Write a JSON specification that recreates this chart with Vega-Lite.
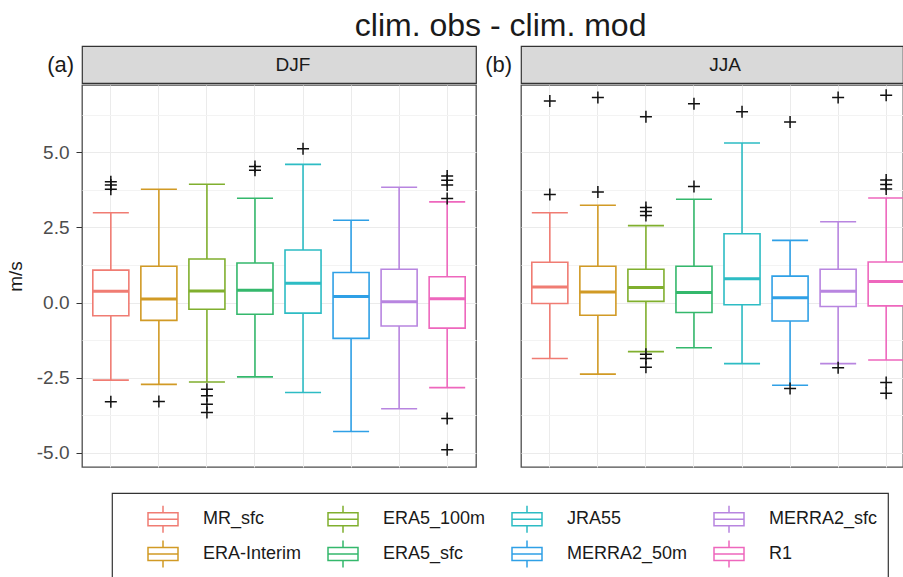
{
  "$schema": "https://vega.github.io/schema/vega-lite/v6.json",
  "padding": {"left": 5, "top": 10, "right": 0, "bottom": 0},
  "title": {"text": "clim. obs - clim. mod", "fontSize": 32, "font": "Liberation Sans", "fontWeight": "normal", "color": "#1A1A1A", "anchor": "middle", "offset": 2, "dx": 40},
  "datasets": {
    "boxes": [
      {"season": "DJF", "model": "MR_sfc", "upper": 2.99, "q3": 1.08, "median": 0.38, "q1": -0.44, "lower": -2.58},
      {"season": "DJF", "model": "ERA-Interim", "upper": 3.77, "q3": 1.21, "median": 0.12, "q1": -0.59, "lower": -2.72},
      {"season": "DJF", "model": "ERA5_100m", "upper": 3.94, "q3": 1.45, "median": 0.39, "q1": -0.22, "lower": -2.64},
      {"season": "DJF", "model": "ERA5_sfc", "upper": 3.47, "q3": 1.32, "median": 0.41, "q1": -0.39, "lower": -2.47},
      {"season": "DJF", "model": "JRA55", "upper": 4.60, "q3": 1.75, "median": 0.64, "q1": -0.35, "lower": -2.99},
      {"season": "DJF", "model": "MERRA2_50m", "upper": 2.74, "q3": 1.00, "median": 0.20, "q1": -1.19, "lower": -4.29},
      {"season": "DJF", "model": "MERRA2_sfc", "upper": 3.84, "q3": 1.11, "median": 0.03, "q1": -0.78, "lower": -3.53},
      {"season": "DJF", "model": "R1", "upper": 3.35, "q3": 0.86, "median": 0.13, "q1": -0.85, "lower": -2.83},
      {"season": "JJA", "model": "MR_sfc", "upper": 2.99, "q3": 1.34, "median": 0.52, "q1": -0.03, "lower": -1.86},
      {"season": "JJA", "model": "ERA-Interim", "upper": 3.24, "q3": 1.21, "median": 0.35, "q1": -0.42, "lower": -2.38},
      {"season": "JJA", "model": "ERA5_100m", "upper": 2.56, "q3": 1.11, "median": 0.50, "q1": 0.04, "lower": -1.63},
      {"season": "JJA", "model": "ERA5_sfc", "upper": 3.44, "q3": 1.21, "median": 0.34, "q1": -0.33, "lower": -1.50},
      {"season": "JJA", "model": "JRA55", "upper": 5.31, "q3": 2.29, "median": 0.79, "q1": -0.07, "lower": -2.03},
      {"season": "JJA", "model": "MERRA2_50m", "upper": 2.07, "q3": 0.88, "median": 0.16, "q1": -0.61, "lower": -2.75},
      {"season": "JJA", "model": "MERRA2_sfc", "upper": 2.69, "q3": 1.11, "median": 0.38, "q1": -0.13, "lower": -2.03},
      {"season": "JJA", "model": "R1", "upper": 3.48, "q3": 1.35, "median": 0.70, "q1": -0.11, "lower": -1.91}
    ],
    "outliers": [
      {"season": "DJF", "model": "MR_sfc", "value": 4.02},
      {"season": "DJF", "model": "MR_sfc", "value": 3.91},
      {"season": "DJF", "model": "MR_sfc", "value": 3.77},
      {"season": "DJF", "model": "MR_sfc", "value": -3.30},
      {"season": "DJF", "model": "ERA-Interim", "value": -3.29},
      {"season": "DJF", "model": "ERA5_100m", "value": -2.88},
      {"season": "DJF", "model": "ERA5_100m", "value": -3.10},
      {"season": "DJF", "model": "ERA5_100m", "value": -3.38},
      {"season": "DJF", "model": "ERA5_100m", "value": -3.66},
      {"season": "DJF", "model": "ERA5_sfc", "value": 4.53},
      {"season": "DJF", "model": "ERA5_sfc", "value": 4.40},
      {"season": "DJF", "model": "JRA55", "value": 5.12},
      {"season": "DJF", "model": "R1", "value": 4.21},
      {"season": "DJF", "model": "R1", "value": 4.07},
      {"season": "DJF", "model": "R1", "value": 3.91},
      {"season": "DJF", "model": "R1", "value": 3.46},
      {"season": "DJF", "model": "R1", "value": -3.86},
      {"season": "DJF", "model": "R1", "value": -4.90},
      {"season": "JJA", "model": "MR_sfc", "value": 6.71},
      {"season": "JJA", "model": "MR_sfc", "value": 3.60},
      {"season": "JJA", "model": "ERA-Interim", "value": 6.82},
      {"season": "JJA", "model": "ERA-Interim", "value": 3.68},
      {"season": "JJA", "model": "ERA5_100m", "value": 6.18},
      {"season": "JJA", "model": "ERA5_100m", "value": 3.16},
      {"season": "JJA", "model": "ERA5_100m", "value": 3.03},
      {"season": "JJA", "model": "ERA5_100m", "value": 2.90},
      {"season": "JJA", "model": "ERA5_100m", "value": -1.72},
      {"season": "JJA", "model": "ERA5_100m", "value": -1.86},
      {"season": "JJA", "model": "ERA5_100m", "value": -2.15},
      {"season": "JJA", "model": "ERA5_sfc", "value": 6.62},
      {"season": "JJA", "model": "ERA5_sfc", "value": 3.86},
      {"season": "JJA", "model": "JRA55", "value": 6.35},
      {"season": "JJA", "model": "MERRA2_50m", "value": 6.01},
      {"season": "JJA", "model": "MERRA2_50m", "value": -2.86},
      {"season": "JJA", "model": "MERRA2_sfc", "value": 6.82},
      {"season": "JJA", "model": "MERRA2_sfc", "value": -2.17},
      {"season": "JJA", "model": "R1", "value": 6.90},
      {"season": "JJA", "model": "R1", "value": 4.08},
      {"season": "JJA", "model": "R1", "value": 3.93},
      {"season": "JJA", "model": "R1", "value": 3.78},
      {"season": "JJA", "model": "R1", "value": -2.66},
      {"season": "JJA", "model": "R1", "value": -3.02}
    ]
  },
  "spacing": 7,
  "resolve": {"scale": {"x": "independent", "y": "independent", "stroke": "shared"}},
  "hconcat": [
    {
      "spacing": 0,
      "resolve": {"scale": {"x": "independent", "y": "independent"}},
      "vconcat": [
        {
          "width": 394,
          "height": 37,
          "view": {"fill": "#D9D9D9", "stroke": "#333333", "strokeWidth": 1.2},
          "title": {"text": "(a)", "orient": "left", "angle": 0, "align": "right", "baseline": "middle", "anchor": "middle", "fontSize": 22, "fontWeight": "normal", "color": "#1A1A1A", "offset": -19},
          "data": {"values": [{"season": "DJF"}]},
          "mark": {"type": "text", "fontSize": 19, "color": "#1A1A1A", "dx": 14},
          "encoding": {"text": {"field": "season"}}
        },
        {
          "width": 394,
          "height": 382,
          "data": {"name": "boxes"},
          "transform": [{"filter": "datum.season === 'DJF'"}],
          "encoding": {
            "x": {"field": "model", "type": "nominal",
              "scale": {"domain": ["MR_sfc", "ERA-Interim", "ERA5_100m", "ERA5_sfc", "JRA55", "MERRA2_50m", "MERRA2_sfc", "R1"], "paddingInner": 0, "paddingOuter": 0.1},
              "axis": {"title": null, "labels": false, "ticks": false, "domain": false, "grid": true, "gridColor": "#EBEBEB", "gridWidth": 1, "bandPosition": 0.5}}
          },
          "layer": [
            {
              "mark": {"type": "rule", "strokeWidth": 1.6},
              "encoding": {
                "y": {"field": "lower", "type": "quantitative",
                  "scale": {"domain": [-5.47, 7.24], "nice": false, "zero": false},
                  "axis": {"title": "m/s", "titleFontSize": 19, "titleFontWeight": "normal", "titleColor": "#1A1A1A", "titlePadding": 11,
                    "values": [-5, -3.75, -2.5, -1.25, 0, 1.25, 2.5, 3.75, 5, 6.25],
                    "labelExpr": "datum.value % 2.5 === 0 ? replace(format(datum.value, '.1f'), '\u2212', '-') : ''",
                    "labelFontSize": 19, "labelColor": "#4D4D4D", "labelPadding": 7,
                    "tickSize": 6, "tickColor": "#333333", "tickOpacity": {"condition": {"test": "datum.value % 2.5 === 0", "value": 1}, "value": 0},
                    "domain": false, "grid": true,
                    "gridColor": {"condition": {"test": "datum.value % 2.5 === 0", "value": "#EBEBEB"}, "value": "#F3F3F3"}}},
                "y2": {"field": "upper"},
                "stroke": {"field": "model", "type": "nominal",
                  "scale": {"domain": ["MR_sfc", "ERA-Interim", "ERA5_100m", "ERA5_sfc", "JRA55", "MERRA2_50m", "MERRA2_sfc", "R1"],
                    "range": ["#F07C73", "#D19A25", "#80AF2E", "#34B86C", "#2DBCC4", "#2FA0E6", "#B885E0", "#EE67BD"]}}
              }
            },
            {
              "mark": {"type": "bar", "fill": "white", "strokeWidth": 1.6, "width": {"band": 0.75}},
              "encoding": {"y": {"field": "q1", "type": "quantitative"}, "y2": {"field": "q3"}, "stroke": {"field": "model", "type": "nominal"}}
            },
            {
              "mark": {"type": "bar", "fill": "transparent", "strokeWidth": 1.6, "width": {"band": 0.75}},
              "encoding": {"y": {"field": "lower", "type": "quantitative"}, "y2": {"field": "lower"}, "stroke": {"field": "model", "type": "nominal"}}
            },
            {
              "mark": {"type": "bar", "fill": "transparent", "strokeWidth": 1.6, "width": {"band": 0.75}},
              "encoding": {"y": {"field": "upper", "type": "quantitative"}, "y2": {"field": "upper"}, "stroke": {"field": "model", "type": "nominal"}}
            },
            {
              "mark": {"type": "bar", "fill": "transparent", "strokeWidth": 3, "width": {"band": 0.75}},
              "encoding": {"y": {"field": "median", "type": "quantitative"}, "y2": {"field": "median"}, "stroke": {"field": "model", "type": "nominal"}}
            },
            {
              "data": {"name": "outliers"},
              "transform": [{"filter": "datum.season === 'DJF'"}],
              "mark": {"type": "point", "shape": "M-1,0H1M0,-1V1", "filled": false, "stroke": "#111111", "strokeWidth": 1.5, "size": 144, "opacity": 1},
              "encoding": {"y": {"field": "value", "type": "quantitative"}}
            }
          ]
        }
      ]
    },
    {
      "spacing": 0,
      "resolve": {"scale": {"x": "independent", "y": "independent"}},
      "vconcat": [
        {
          "width": 382,
          "height": 37,
          "view": {"fill": "#D9D9D9", "stroke": "#333333", "strokeWidth": 1.2},
          "title": {"text": "(b)", "orient": "left", "angle": 0, "align": "right", "baseline": "middle", "anchor": "middle", "fontSize": 22, "fontWeight": "normal", "color": "#1A1A1A", "offset": -18},
          "data": {"values": [{"season": "JJA"}]},
          "mark": {"type": "text", "fontSize": 19, "color": "#1A1A1A", "dx": 13},
          "encoding": {"text": {"field": "season"}}
        },
        {
          "width": 382,
          "height": 382,
          "data": {"name": "boxes"},
          "transform": [{"filter": "datum.season === 'JJA'"}],
          "encoding": {
            "x": {"field": "model", "type": "nominal",
              "scale": {"domain": ["MR_sfc", "ERA-Interim", "ERA5_100m", "ERA5_sfc", "JRA55", "MERRA2_50m", "MERRA2_sfc", "R1"], "paddingInner": 0, "paddingOuter": 0.1, "range": [0, 394]},
              "axis": {"title": null, "labels": false, "ticks": false, "domain": false, "grid": true, "gridColor": "#EBEBEB", "gridWidth": 1, "bandPosition": 0.5}}
          },
          "layer": [
            {
              "mark": {"type": "rule", "strokeWidth": 1.6, "clip": true},
              "encoding": {
                "y": {"field": "lower", "type": "quantitative",
                  "scale": {"domain": [-5.47, 7.24], "nice": false, "zero": false},
                  "axis": {"title": null, "labels": false, "ticks": false, "domain": false,
                    "values": [-5, -3.75, -2.5, -1.25, 0, 1.25, 2.5, 3.75, 5, 6.25], "grid": true,
                    "gridColor": {"condition": {"test": "datum.value % 2.5 === 0", "value": "#EBEBEB"}, "value": "#F3F3F3"}}},
                "y2": {"field": "upper"},
                "stroke": {"field": "model", "type": "nominal"}
              }
            },
            {
              "mark": {"type": "bar", "fill": "white", "strokeWidth": 1.6, "width": {"band": 0.75}, "clip": true},
              "encoding": {"y": {"field": "q1", "type": "quantitative"}, "y2": {"field": "q3"}, "stroke": {"field": "model", "type": "nominal"}}
            },
            {
              "mark": {"type": "bar", "fill": "transparent", "strokeWidth": 1.6, "width": {"band": 0.75}, "clip": true},
              "encoding": {"y": {"field": "lower", "type": "quantitative"}, "y2": {"field": "lower"}, "stroke": {"field": "model", "type": "nominal"}}
            },
            {
              "mark": {"type": "bar", "fill": "transparent", "strokeWidth": 1.6, "width": {"band": 0.75}, "clip": true},
              "encoding": {"y": {"field": "upper", "type": "quantitative"}, "y2": {"field": "upper"}, "stroke": {"field": "model", "type": "nominal"}}
            },
            {
              "mark": {"type": "bar", "fill": "transparent", "strokeWidth": 3, "width": {"band": 0.75}, "clip": true},
              "encoding": {"y": {"field": "median", "type": "quantitative"}, "y2": {"field": "median"}, "stroke": {"field": "model", "type": "nominal"}}
            },
            {
              "data": {"name": "outliers"},
              "transform": [{"filter": "datum.season === 'JJA'"}],
              "mark": {"type": "point", "shape": "M-1,0H1M0,-1V1", "filled": false, "stroke": "#111111", "strokeWidth": 1.5, "size": 144, "opacity": 1, "clip": true},
              "encoding": {"y": {"field": "value", "type": "quantitative"}}
            }
          ]
        }
      ]
    }
  ],
  "config": {
    "font": "Liberation Sans",
    "view": {"stroke": "#4D4D4D", "strokeWidth": 1.3},
    "legend": {
      "orient": "none", "legendX": 30, "legendY": 447, "columns": 4, "title": null,
      "symbolType": "M-1,-0.43H1V0.43H-1Z M-1,0H1 M0,-0.43V-0.9 M0,0.43V0.9",
      "symbolSize": 900, "symbolStrokeWidth": 1.5, "symbolFillColor": "transparent",
      "labelFontSize": 18, "labelColor": "#1A1A1A", "labelOffset": 24, "labelLimit": 300,
      "columnPadding": -3, "rowPadding": 1, "padding": 10, "symbolOffset": 25,
      "strokeColor": "#333333", "strokeWidth": 1.2, "fillColor": "white"
    }
  }
}
